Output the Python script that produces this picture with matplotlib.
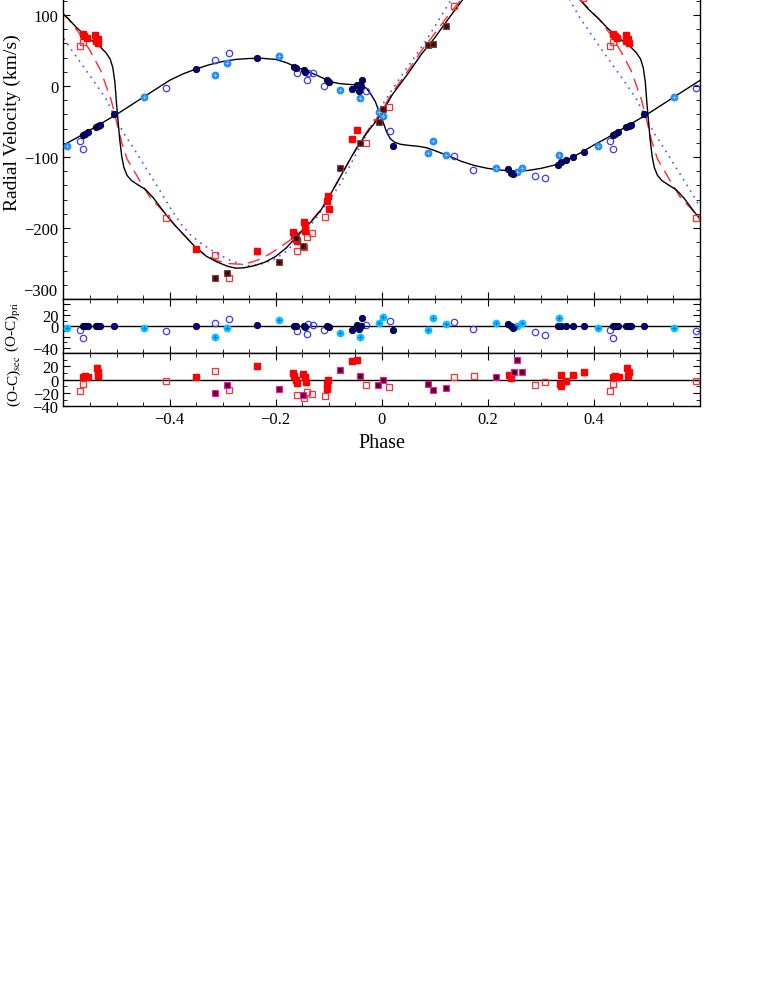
import numpy as np
import matplotlib.pyplot as plt
from matplotlib.ticker import MultipleLocator, FuncFormatter

plt.rcParams['font.family'] = ['Liberation Serif', 'DejaVu Serif']
plt.rcParams['mathtext.fontset'] = 'stix'

##### MODELLKURVEN (Phase, RV) #####
pri_mod_ph = [-0.5, -0.475, -0.45, -0.425, -0.40, -0.375, -0.35, -0.325, -0.30, -0.275,
              -0.25, -0.225, -0.20, -0.18, -0.165, -0.145, -0.125, -0.10, -0.09, -0.08,
              -0.06, -0.045, -0.035, -0.028, -0.02, -0.012, -0.005, 0.0, 0.005, 0.01,
              0.016, 0.024, 0.035, 0.05, 0.07, 0.085, 0.10, 0.125, 0.15, 0.175,
              0.20, 0.225, 0.25, 0.275, 0.30, 0.325, 0.35, 0.375, 0.40, 0.425,
              0.45, 0.475]
pri_mod_rv = [-40, -28, -16, -4, 8, 17, 24, 30, 34.5, 37.5,
              38.8, 39, 37.5, 33, 28, 22, 16, 7.5, 5, 3.5,
              2.2, 1.5, 0, -4, -12, -22, -36, -45, -56, -66,
              -74, -79, -82, -83.5, -85, -87, -91, -98, -106, -112,
              -116, -118.5, -119.5, -119, -116, -111.5, -104, -94, -83, -73,
              -62, -51]

sec_mod_ph = [-0.5, -0.497, -0.494, -0.49, -0.486, -0.48, -0.472, -0.46, -0.445, -0.43,
              -0.41, -0.39, -0.37, -0.35, -0.33, -0.31, -0.29, -0.275, -0.26, -0.24,
              -0.22, -0.2, -0.18, -0.165, -0.15, -0.133, -0.115, -0.1, -0.085, -0.07,
              -0.055, -0.04, -0.025, -0.01, 0.0, 0.02, 0.05, 0.075, 0.1, 0.125,
              0.153, 0.18, 0.21, 0.24, 0.27, 0.30, 0.33, 0.355, 0.373, 0.39,
              0.41, 0.425, 0.44, 0.455, 0.468, 0.48, 0.488, 0.493, 0.497]
sec_mod_rv = [-25, -50, -75, -100, -115, -126, -133, -139, -146, -158,
              -178, -196, -212, -228, -240, -248, -254, -256.5, -256, -253,
              -248, -240, -228, -216, -204, -191, -175, -157, -137, -117,
              -97, -79, -63, -49, -38, -12, 18, 45, 68, 94,
              122, 145, 162, 172, 175, 170, 155, 136, 122, 108,
              94, 82, 72, 63, 56, 47, 38, 26, 5]

sec2_mod_ph = [-0.5, -0.49, -0.48, -0.465, -0.455, -0.445, -0.435, -0.42, -0.41, -0.39,
               -0.37, -0.35, -0.33, -0.31, -0.29, -0.265, -0.245, -0.23, -0.21, -0.19,
               -0.165, -0.15, -0.133, -0.115, -0.1, -0.085, -0.07, -0.055, -0.04, -0.025,
               -0.01, 0.0, 0.02, 0.05, 0.075, 0.1, 0.125, 0.153, 0.18, 0.21,
               0.24, 0.27, 0.30, 0.33, 0.355, 0.373, 0.39, 0.41, 0.43, 0.45,
               0.47, 0.49]
sec2_mod_rv = [-50, -80, -103, -122, -135, -147, -159, -170, -178, -196,
               -212, -228, -239, -246, -250, -251, -248, -244, -236, -226,
               -213, -203, -190, -174, -157, -137, -117, -97, -78, -61,
               -46, -35, -9, 22, 50, 74, 99, 125, 148, 165,
               175, 177, 171, 156, 137, 123, 109, 94, 74, 50,
               22, -20]

sec3_mod_ph = [-0.5, -0.485, -0.47, -0.455, -0.44, -0.42, -0.40, -0.38, -0.36, -0.34,
               -0.3155, -0.30, -0.284, -0.265, -0.2525, -0.235, -0.22, -0.2, -0.18, -0.16,
               -0.14, -0.12, -0.1, -0.08, -0.06, -0.04, -0.02, 0.0, 0.024, 0.05,
               0.081, 0.105, 0.131, 0.16, 0.19, 0.22, 0.25, 0.28, 0.31, 0.33,
               0.354, 0.372, 0.392, 0.414, 0.436, 0.458, 0.48]
sec3_mod_rv = [-48, -68, -85, -103, -121, -145, -170, -193, -210, -222,
               -234, -240, -246, -251, -253, -252, -249, -243, -233, -218,
               -202, -182, -162, -140, -112, -84, -56, -28, 0, 28,
               61, 90, 122, 148, 166, 176, 180, 176, 164, 150,
               122, 98, 76, 52, 29, 6, -18]

##### MESSPUNKTE PRIMAER #####
p1_ph = [-0.35, -0.235, -0.1657, -0.1613, -0.1457, -0.1438, -0.1034, -0.1003, -0.0557, -0.0462,
         -0.0387, -0.0368, -0.042, 0.022, 0.239, 0.2443, 0.2475, 0.3325, 0.3387, 0.348,
         0.3608, 0.3815, 0.436, 0.4406, 0.4457, 0.461, 0.4657, 0.4694, 0.495]
p1_rv = [24, 39, 27, 25, 23, 20, 8, 5, -4, 1,
         0, 9, -7, -84, -117, -122, -124, -111, -107, -104,
         -100, -93, -69, -67, -65, -57, -56, -55, -40]
p1_oc = [0, 2, 0, 0, 1, -1, 0, -1, -7, 2,
         0, 15, -6, -8, 4, 0, -3, 0, 0, 1,
         1, 1, 0, 1, 0, 0, 0, 0, 1]

p2_ph = [0.431, 0.436, -0.4066, -0.314, -0.2884, -0.16, -0.1406, -0.139, -0.13, -0.108,
         -0.029, 0.0148, 0.1355, 0.173, 0.2896, 0.3085]
p2_rv = [-77, -89, -3, 37, 47, 18, 8, 18, 18, 0,
         -7, -63, -98, -118, -127, -129]
p2_oc = [-8, -22, -10, 5, 13, -10, -14, 4, 2, -8,
         2, 10, 7, -6, -11, -17]

p3_ph = [0.407, -0.4487, -0.3136, -0.292, -0.194, -0.0796, -0.0418, -0.006, 0.002, 0.087,
         0.0966, 0.1217, 0.216, 0.2557, 0.2645, 0.3336]
p3_rv = [-85, -16, 16, 33, 43, -6, -17, -36, -42, -94,
         -77, -97, -115, -121, -115, -97]
p3_oc = [-4, -4, -21, -4, 11, -12, -20, 5, 17, -8,
         15, 3, 6, 0, 6, 15]

##### MESSPUNKTE SEKUNDAER #####
s1_ph = [0.436, 0.439, 0.4445, 0.46, 0.465, 0.466, 0.461, -0.35, -0.235, -0.1675,
         -0.1645, -0.161, -0.1594, -0.1457, -0.1438, -0.145, -0.1015, -0.1034, -0.099, -0.047,
         -0.0562]
s1_rv = [73, 70, 67, 72, 66, 61, 64, -230, -233, -205,
         -210, -215, -218, -191, -196, -204, -155, -162, -173, -62,
         -75]
s1r_ph = [0.436, 0.4405, 0.4468, 0.4632, 0.4657, 0.4645, -0.35, -0.235, -0.1665, -0.1645,
          -0.1625, -0.1605, -0.1475, -0.1455, -0.1435, -0.1035, -0.1025, -0.1015, -0.056, -0.046,
          0.24, 0.2443, 0.3374, 0.3355, 0.3387, 0.348, 0.3606, 0.3814]
s1_oc = [3.5, 5, 3.5, 17, 11, 6, 3.5, 20, 10, 5,
         -1, -5, 8, 4, -4, -6, -14, 0, 28.5, 30,
         7, 2, 7, -6.5, -9, -1.5, 7, 11]
s1_err = [3, 3, 3, 5, 5, 4, 2, 3, 2, 2,
          2, 2, 2, 2, 2, 2, 2, 2, 2, 2,
          2, 2, 2, 2, 2, 3, 3, 4]

s2_ph = [0.436, 0.431, -0.4066, -0.314, -0.288, -0.1594, -0.147, -0.141, -0.1317, -0.1066,
         -0.029, 0.0135, 0.1355, 0.38]
s2_rv = [62, 56, -186, -238, -271, -232, -226, -212, -207, -184,
         -80, -29, 113, 124]
s2r_ph = [0.436, 0.431, -0.4066, -0.314, -0.288, -0.1594, -0.147, -0.141, -0.1317, -0.1066,
          -0.029, 0.0135, 0.1355, 0.174, 0.2896, 0.3085]
s2_oc = [-6.5, -16.5, -2.5, 13.5, -15, -22.5, -27.5, -18, -21.5, -24,
         -8, -11.5, 3.5, 6, -8, -4]

s3_ph = [-0.3136, -0.292, -0.194, -0.161, -0.149, -0.0796, -0.0418, -0.006, 0.002, 0.087,
         0.0966, 0.1217]
s3_rv = [-271, -264, -248, -214, -225, -116, -80, -51, -32, 58,
         59, 85]
s3r_ph = [-0.3136, -0.292, -0.194, -0.149, -0.0796, -0.0418, -0.007, 0.002, 0.087, 0.0966,
          0.1217, 0.216, 0.2497, 0.2557, 0.2645]
s3_oc = [-20.5, -7.5, -14, -23, 15, 5, -8, 0, -6.5, -15.5,
         -12.5, 4.5, 12, 29.5, 12]


def tile(ph, *vals):
    ph = np.asarray(ph, dtype=float)
    out = [np.concatenate([ph - 1, ph, ph + 1])]
    for v in vals:
        out.append(np.tile(np.asarray(v, dtype=float), 3))
    return out


def curve(ax, ph, rv, **kw):
    p, v = tile(ph, rv)
    ax.plot(p, v, zorder=2, **kw)


def pts(ax, ph, rv, hatch=None, **kw):
    p, v = tile(ph, rv)
    ax.plot(p, v, ls='none', zorder=3, **kw)
    if hatch is not None:
        ax.plot(p, v, ls='none', marker='+', ms=2.8, mew=0.6, color=hatch, zorder=4)


##### PLOTTEN #####
fig = plt.figure(figsize=(7.63, 9.87), dpi=100)
L, W = 0.0832, 0.8342
ax = fig.add_axes([L, 0.696, W, 0.3597])
axp = fig.add_axes([L, 0.6413, W, 0.0547])
axs = fig.add_axes([L, 0.5873, W, 0.054])

curve(ax, sec3_mod_ph, sec3_mod_rv, color='#5050ff', lw=1.2, ls=(0, (1, 3)))
curve(ax, sec2_mod_ph, sec2_mod_rv, color='#ff2a2a', lw=1.0, ls=(0, (9, 5)))
curve(ax, pri_mod_ph, pri_mod_rv, color='k', lw=1.0)
curve(ax, sec_mod_ph, sec_mod_rv, color='k', lw=1.0)

navy = '#00008c'
lblue = '#1e8cff'
ms_c = 4.6
ms_s = 5.0
pts(ax, p2_ph, p2_rv, marker='o', ms=ms_c, mfc='none', mec='#3c3cff', mew=0.9)
pts(ax, p3_ph, p3_rv, marker='o', ms=ms_c, mfc=lblue, mec=lblue, hatch='#9cc8ff')
pts(ax, p1_ph, p1_rv, marker='o', ms=ms_c, mfc=navy, mec='k', mew=0.6)
pts(ax, s2_ph, s2_rv, marker='s', ms=ms_s, mfc='none', mec='#ff3030', mew=0.9)
pts(ax, s1_ph, s1_rv, marker='s', ms=ms_s, mfc='#ff0000', mec='#ff0000')
pts(ax, s3_ph, s3_rv, marker='s', ms=ms_s, mfc='#8b0000', mec='#555555', mew=0.8, hatch='k')

# Residuen primaer
axp.axhline(0, color='k', lw=1.0, zorder=2)
pe, ve, ee = tile(p1_ph, p1_oc, [2] * len(p1_ph))
axp.errorbar(pe, ve, yerr=ee, fmt='none', ecolor=navy, elinewidth=0.7, capsize=1.5, zorder=2)
pts(axp, p2_ph, p2_oc, marker='o', ms=ms_c, mfc='none', mec='#3c3cff', mew=0.9)
pts(axp, p3_ph, p3_oc, marker='o', ms=ms_c, mfc='#00c8ff', mec='#00c8ff', hatch='#1a4cff')
pts(axp, p1_ph, p1_oc, marker='o', ms=ms_c, mfc=navy, mec='k', mew=0.6)

# Residuen sekundaer
axs.axhline(0, color='k', lw=1.0, zorder=2)
pe, ve, ee = tile(s1r_ph, s1_oc, s1_err)
axs.errorbar(pe, ve, yerr=ee, fmt='none', ecolor='#ff3030', elinewidth=0.7, capsize=1.5, zorder=2)
pts(axs, s2r_ph, s2_oc, marker='s', ms=ms_s, mfc='none', mec='#ff3030', mew=0.9)
pts(axs, s1r_ph, s1_oc, marker='s', ms=ms_s, mfc='#ff0000', mec='#ff0000')
pts(axs, s3r_ph, s3_oc, marker='s', ms=ms_s, mfc='#8b0000', mec='#ff00ff', mew=0.7, hatch='k')

for a in (ax, axp, axs):
    a.set_xlim(-0.6, 0.6)
    a.set_xticks([-0.4, -0.2, 0.0, 0.2, 0.4])
    a.xaxis.set_minor_locator(MultipleLocator(0.05))
    a.tick_params(which='both', direction='in', top=True, right=True, labelsize=12)
    a.tick_params(which='major', length=5)
    a.tick_params(which='minor', length=3)
    for s in a.spines.values():
        s.set_linewidth(1.0)

ax.set_ylim(-300, 200)
ax.set_yticks([-300, -200, -100, 0, 100, 200])
ax.set_yticklabels(['', '\u2212200', '\u2212100', '0', '100', ''])
ax.text(-0.612, -300, '\u2212300', ha='right', va='bottom', fontsize=12)
ax.yaxis.set_minor_locator(MultipleLocator(20))
ax.set_ylabel('Radial Velocity (km/s)', fontsize=14)
ax.yaxis.set_label_coords(-0.066, 0.5)
ax.tick_params(labelbottom=False)

axp.set_ylim(-50, 50)
axp.set_yticks([-40, -20, 0, 20, 40])
axp.set_yticklabels(['\u221240', '', '0', '20', ''])
axp.yaxis.set_minor_locator(MultipleLocator(10))
axp.set_ylabel('(O-C)$_{\\rm pri}$', fontsize=11)
axp.yaxis.set_label_coords(-0.063, 0.5)
axp.tick_params(labelbottom=False)

axs.set_ylim(-40, 40)
axs.set_yticks([-40, -20, 0, 20])
axs.set_yticklabels(['\u221240', '\u221220', '0', '20'])
axs.yaxis.set_minor_locator(MultipleLocator(10))
axs.set_ylabel('(O-C)$_{\\rm sec}$', fontsize=11)
axs.yaxis.set_label_coords(-0.063, 0.5)
axs.xaxis.set_major_formatter(FuncFormatter(
    lambda v, p: '0' if abs(v) < 1e-9 else ('%.1f' % v).replace('-', '\u2212')))
axs.set_xlabel('Phase', fontsize=14.5)

fig.savefig('out.png', dpi=100)
